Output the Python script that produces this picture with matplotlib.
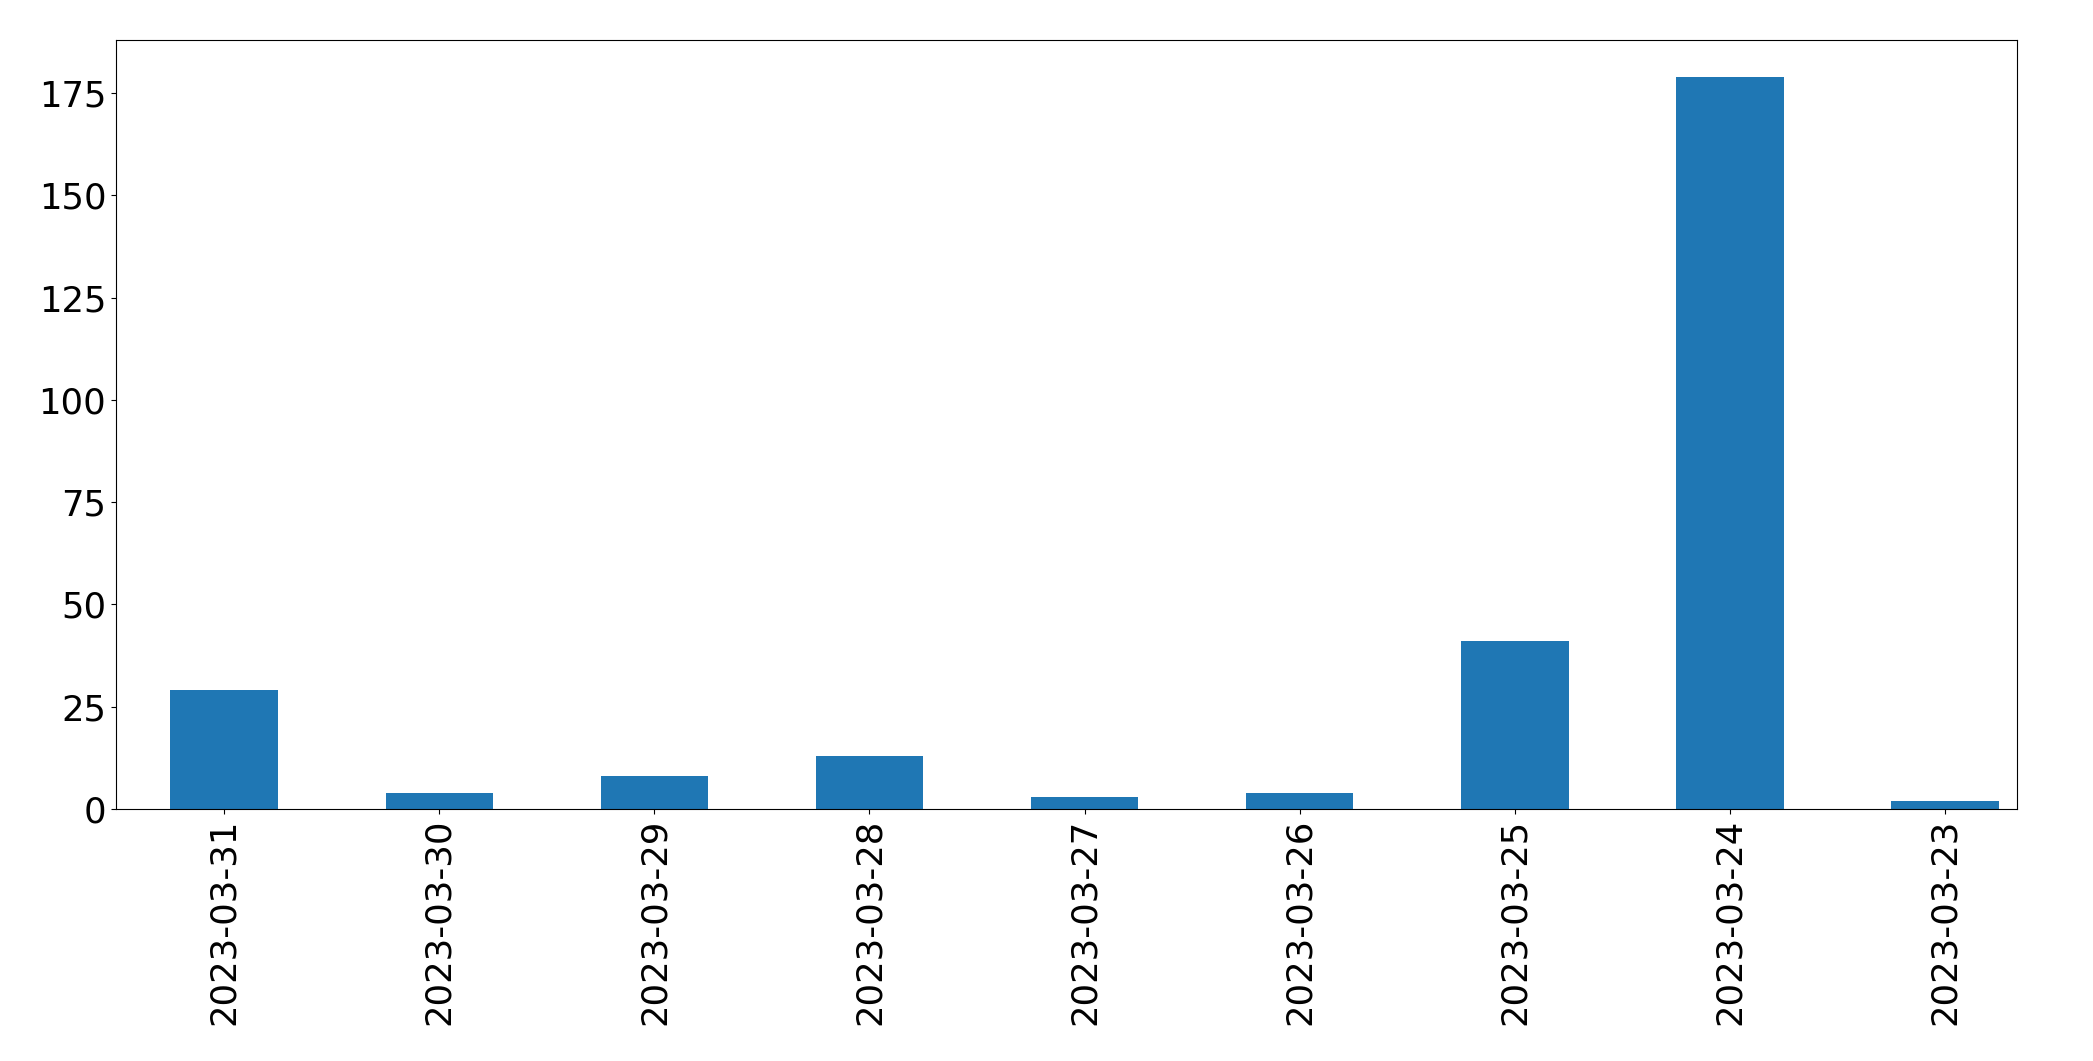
import matplotlib
matplotlib.use("Agg")
import matplotlib.pyplot as plt
import numpy as np

dates = ["2023-03-31", "2023-03-30", "2023-03-29", "2023-03-28", "2023-03-27",
         "2023-03-26", "2023-03-25", "2023-03-24", "2023-03-23"]
counts = [29, 4, 8, 13, 3, 4, 41, 179, 2]

fig = plt.figure(figsize=(20.93, 10.61), dpi=100)
ax = fig.add_axes([116/2093, 1-809/1061, (2017-116)/2093, (809-40)/1061])
x = np.arange(len(dates))
ax.bar(x, counts, width=0.5, color="#1f77b4")
ax.set_xlim(-0.503, len(dates) - 1 + 0.335)
ax.set_ylim(0, max(counts) * 1.05)
ax.set_xticks(x)
ax.set_xticklabels(dates, rotation=90)
ax.tick_params(axis="both", labelsize=25.6)
fig.savefig("out.png", dpi=100)
